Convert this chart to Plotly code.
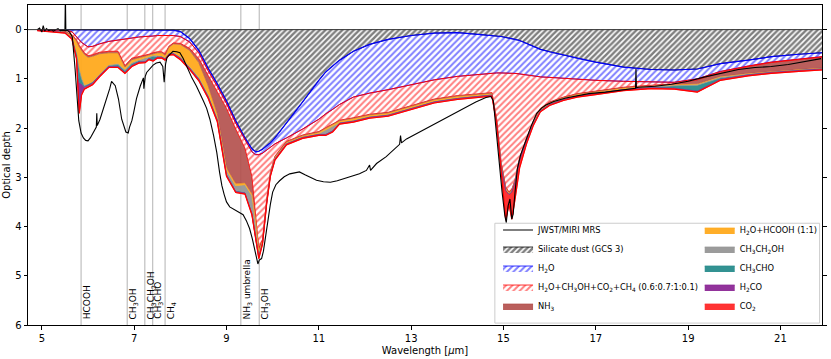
import numpy as np
import plotly.graph_objects as go

# %% data: common wavelength grid of the fit components (micron)
wl = [4.9, 5.2, 5.5, 5.65, 5.75, 5.81, 5.86, 5.92, 6.0, 6.1,
      6.25, 6.45, 6.65, 6.8, 6.95, 7.1, 7.24, 7.32, 7.41, 7.5,
      7.6, 7.67, 7.75, 7.85, 8.0, 8.2, 8.4, 8.6, 8.8, 9.0,
      9.2, 9.4, 9.55, 9.63, 9.7, 9.78, 9.87, 9.95, 10.05, 10.3,
      10.65, 11.0, 11.15, 11.3, 11.45, 11.75, 12.1, 12.5, 13.0, 13.5,
      14.0, 14.5, 14.75, 14.85, 14.95, 15.05, 15.12, 15.18, 15.25, 15.35,
      15.5, 15.65, 15.8, 16.0, 16.3, 16.6, 17.0, 17.6, 18.2, 18.7,
      19.2, 19.7, 20.3, 20.8, 21.4, 21.9]

# optical depth of each component (stacked in this order)
tau_silicate = [0, 0, 0, 0, 0, 0, 0, 0, 0, 0,
                0, 0, 0, 0, 0, 0, 0, 0, 0, 0,
                0, 0, 0, 0.01, 0.04, 0.18, 0.42, 0.78, 1.1, 1.45,
                1.85, 2.2, 2.42, 2.48, 2.47, 2.43, 2.36, 2.3, 2.2, 1.9,
                1.47, 1.03, 0.86, 0.74, 0.62, 0.44, 0.3, 0.2, 0.12, 0.07,
                0.06, 0.1, 0.12, 0.13, 0.14, 0.16, 0.17, 0.18, 0.2, 0.22,
                0.28, 0.34, 0.4, 0.45, 0.52, 0.58, 0.66, 0.76, 0.81, 0.82,
                0.8, 0.69, 0.62, 0.55, 0.5, 0.47]
tau_h2o = [0, 0, 0.01, 0.04, 0.15, 0.22, 0.26, 0.3, 0.35, 0.34,
           0.29, 0.24, 0.21, 0.18, 0.16, 0.15, 0.14, 0.14, 0.13, 0.12,
           0.12, 0.12, 0.12, 0.11, 0.1, 0.07, 0.05, 0.05, 0.05, 0.05,
           0.05, 0.05, 0.06, 0.06, 0.07, 0.08, 0.09, 0.1, 0.12, 0.3,
           0.55, 0.79, 0.85, 0.88, 0.9, 0.93, 0.99, 1.02, 1.0, 0.95,
           0.89, 0.81, 0.76, 0.75, 0.74, 0.72, 0.71, 0.7, 0.69, 0.68,
           0.64, 0.6, 0.56, 0.52, 0.47, 0.42, 0.37, 0.29, 0.25, 0.25,
           0.2, 0.16, 0.12, 0.11, 0.1, 0.08]
tau_mixture = [0.01, 0.02, 0.03, 0.06, 0.06, 0.1, 0.14, 0.17, 0.18, 0.17,
               0.17, 0.2, 0.23, 0.55, 0.42, 0.4, 0.38, 0.36, 0.34, 0.33,
               0.33, 0.38, 0.22, 0.15, 0.14, 0.13, 0.12, 0.1, 0.1, 0.1,
               0.12, 0.16, 0.5, 1.2, 1.9, 1.75, 1.0, 0.5, 0.25, 0.07,
               0.12, 0.25, 0.28, 0.3, 0.32, 0.42, 0.43, 0.46, 0.42, 0.39,
               0.39, 0.38, 0.4, 0.92, 1.82, 2.32, 2.42, 2.37, 2.16, 1.7,
               1.28, 0.91, 0.64, 0.5, 0.38, 0.3, 0.22, 0.12, 0.07, 0.03,
               0.02, 0.02, 0.01, 0.01, 0.01, 0.01]
tau_nh3 = [0, 0, 0, 0.01, 0.02, 0.03, 0.03, 0.03, 0.03, 0.03,
           0.03, 0.03, 0.03, 0.03, 0.03, 0.02, 0.02, 0.02, 0.02, 0.02,
           0.02, 0.02, 0.02, 0.02, 0.02, 0.04, 0.08, 0.2, 0.45, 1.2,
           1.1, 0.7, 0.35, 0.12, 0.05, 0.03, 0.02, 0.01, 0.01, 0.01,
           0.01, 0.01, 0.01, 0.01, 0.01, 0.01, 0.01, 0.01, 0.01, 0.01,
           0.01, 0.01, 0.01, 0.01, 0.01, 0.01, 0.01, 0.01, 0.01, 0.01,
           0.01, 0.01, 0.01, 0.01, 0.01, 0.01, 0.01, 0.01, 0.01, 0.01,
           0.08, 0.08, 0.14, 0.18, 0.2, 0.22]
tau_hcooh = [0, 0.01, 0.02, 0.06, 0.25, 0.45, 0.55, 0.62, 0.55, 0.52,
             0.42, 0.25, 0.22, 0.05, 0.06, 0.04, 0.03, 0.03, 0.03, 0.05,
             0.07, 0.06, 0.12, 0.18, 0.25, 0.33, 0.3, 0.18, 0.08, 0.05,
             0.05, 0.04, 0.04, 0.03, 0.02, 0.02, 0.03, 0.03, 0.03, 0.03,
             0.03, 0.03, 0.03, 0.03, 0.04, 0.05, 0.04, 0.04, 0.04, 0.04,
             0.04, 0.04, 0.03, 0.05, 0.08, 0.05, 0.03, 0.03, 0.03, 0.04,
             0.04, 0.04, 0.03, 0.03, 0.03, 0.03, 0.03, 0.03, 0.02, 0.02,
             0.02, 0.02, 0.01, 0.01, 0.01, 0.01]
tau_ch3ch2oh = [0, 0, 0, 0, 0.01, 0.02, 0.02, 0.02, 0.01, 0.01,
                0.01, 0.01, 0.02, 0.02, 0.02, 0.02, 0.06, 0.02, 0.02, 0.02,
                0.01, 0.01, 0.01, 0.01, 0.02, 0.02, 0.02, 0.03, 0.04, 0.08,
                0.1, 0.15, 0.35, 0.35, 0.1, 0.02, 0.01, 0.01, 0.01, 0.01,
                0.01, 0.02, 0.1, 0.1, 0.01, 0.01, 0.01, 0.01, 0.01, 0.01,
                0.01, 0.01, 0.01, 0.01, 0.01, 0.01, 0.01, 0.01, 0.01, 0.01,
                0.01, 0.01, 0.01, 0.01, 0.01, 0.01, 0.01, 0.01, 0.01, 0.01,
                0.01, 0.01, 0.01, 0.01, 0.01, 0.01]
tau_ch3cho = [0, 0, 0, 0, 0.03, 0.25, 0.1, 0.02, 0.01, 0.01,
              0.01, 0.02, 0.04, 0.04, 0.04, 0.03, 0.02, 0.02, 0.08, 0.02,
              0.01, 0.01, 0.01, 0.01, 0.01, 0.01, 0.02, 0.02, 0.02, 0.02,
              0.02, 0.02, 0.02, 0.01, 0.01, 0.01, 0.01, 0.01, 0.01, 0,
              0, 0, 0, 0, 0, 0, 0, 0, 0, 0,
              0, 0, 0, 0, 0, 0, 0, 0, 0, 0,
              0, 0, 0, 0, 0, 0, 0, 0, 0.01, 0.05,
              0.12, 0.03, 0.01, 0, 0, 0]
tau_h2co = [0, 0, 0, 0, 0.05, 0.6, 0.2, 0.02, 0.01, 0.01] + [0] * 66
tau_co2 = [0.01, 0.01, 0.01, 0.02, 0.02, 0.03, 0.03, 0.03, 0.03, 0.03,
           0.03, 0.02, 0.02, 0.02, 0.02, 0.02, 0.02, 0.02, 0.02, 0.02,
           0.02, 0.02, 0.02, 0.02, 0.03, 0.03, 0.03, 0.03, 0.03, 0.03,
           0.02, 0.02, 0.02, 0.02, 0.03, 0.02, 0.02, 0.02, 0.02, 0.02,
           0.02, 0.02, 0.02, 0.02, 0.02, 0.02, 0.02, 0.02, 0.02, 0.02,
           0.02, 0.02, 0.02, 0.03, 0.05, 0.6, 0.2, 0.55, 0.35, 0.15,
           0.06, 0.03, 0.02, 0.02, 0.02, 0.02, 0.02, 0.02, 0.02, 0.02,
           0.02, 0.02, 0.02, 0.02, 0.02, 0.02]

# observed JWST/MIRI MRS optical depth
obs_wl = [4.9, 4.95, 5.0, 5.03, 5.06, 5.1, 5.15, 5.2, 5.25, 5.3,
          5.35, 5.4, 5.45, 5.5, 5.51, 5.52, 5.56, 5.6, 5.66, 5.72,
          5.76, 5.8, 5.85, 5.9, 5.95, 6.0, 6.05, 6.12, 6.18, 6.19,
          6.2, 6.26, 6.33, 6.41, 6.47, 6.51, 6.55, 6.59, 6.66, 6.73,
          6.82, 6.87, 6.9, 6.95, 6.99, 7.05, 7.13, 7.2, 7.21, 7.24,
          7.27, 7.35, 7.41, 7.48, 7.56, 7.62, 7.65, 7.68, 7.71, 7.78,
          7.84, 7.92, 7.99, 8.06, 8.13, 8.25, 8.35, 8.42, 8.5, 8.57,
          8.64, 8.72, 8.79, 8.85, 8.9, 8.95, 9.0, 9.07, 9.14, 9.25,
          9.36, 9.43, 9.5, 9.56, 9.61, 9.65, 9.68, 9.71, 9.76, 9.8,
          9.83, 9.87, 9.9, 9.95, 10.0, 10.07, 10.15, 10.25, 10.37, 10.5,
          10.58, 10.7, 10.8, 10.95, 11.1, 11.25, 11.4, 11.55, 11.73, 11.88,
          12.03, 12.1, 12.12, 12.25, 12.46, 12.6, 12.75, 12.77, 12.79, 12.9,
          13.1, 13.32, 13.55, 13.76, 14.0, 14.19, 14.4, 14.62, 14.73, 14.78,
          14.83, 14.9, 14.97, 15.03, 15.06, 15.1, 15.14, 15.18, 15.21, 15.25,
          15.3, 15.37, 15.44, 15.52, 15.6, 15.72, 15.82, 15.92, 16.09, 16.35,
          16.63, 16.85, 17.21, 17.56, 17.86, 17.87, 17.88, 17.93, 18.29, 18.64,
          19.0, 19.37, 19.72, 20.09, 20.45, 20.8, 21.17, 21.53, 21.88]
obs_tau = [0.0, -0.03, 0.05, -0.08, 0.03, -0.02, 0.02, 0.0, 0.03, 0.01,
           -0.02, 0.02, 0.01, 0.02, -0.7, 0.02, 0.02, 0.05, 0.15, 0.8,
           1.4, 1.85, 2.1, 2.2, 2.25, 2.26, 2.2, 2.09, 1.98, 1.7,
           1.95, 1.82, 1.62, 1.41, 1.2, 1.05, 1.1, 1.14, 1.41, 1.82,
           2.08, 2.1, 1.98, 1.85, 1.68, 1.4, 1.15, 0.98, 1.2, 0.95,
           0.87, 0.78, 0.72, 0.68, 0.66, 0.75, 1.07, 0.7, 0.57, 0.5,
           0.44, 0.45, 0.47, 0.58, 0.74, 0.98, 1.15, 1.28, 1.45, 1.6,
           1.82, 2.15, 2.5, 2.9, 3.17, 3.35, 3.5, 3.6, 3.64, 3.7,
           3.76, 3.88, 4.04, 4.25, 4.44, 4.62, 4.76, 4.68, 4.65, 4.5,
           4.3, 4.05, 3.84, 3.55, 3.3, 3.15, 3.07, 2.99, 2.93, 2.9,
           2.89, 2.95, 3.0, 3.06, 3.09, 3.1, 3.07, 3.03, 2.97, 2.93,
           2.86, 2.75, 2.86, 2.72, 2.58, 2.45, 2.33, 2.15, 2.3, 2.22,
           2.12, 2.02, 1.9, 1.8, 1.68, 1.58, 1.47, 1.38, 1.36, 1.45,
           1.96, 2.63, 3.3, 3.78, 3.92, 3.58, 3.44, 3.85, 3.75, 3.3,
           2.83, 2.55, 2.36, 2.15, 1.96, 1.7, 1.6, 1.53, 1.46, 1.39,
           1.34, 1.3, 1.27, 1.23, 1.19, 0.8, 1.18, 1.17, 1.15, 1.11,
           1.05, 0.96, 0.89, 0.81, 0.77, 0.75, 0.71, 0.65, 0.59]

# marked band positions
band_wl = [5.85, 6.85, 7.23, 7.40, 7.67, 9.31, 9.71]
band_labels = ['HCOOH', 'CH<sub>3</sub>OH', 'CH<sub>3</sub>CH<sub>2</sub>OH', 'CH<sub>3</sub>CHO',
               'CH<sub>4</sub>', 'NH<sub>3</sub> umbrella', 'CH<sub>3</sub>OH']

# %% styling of the components
components = [
    ('Silicate dust (GCS 3)', tau_silicate, 'black', dict(shape='/', fgcolor='black', bgcolor='white', size=4, solidity=0.62), 'legend', 2),
    ('H<sub>2</sub>O', tau_h2o, 'blue', dict(shape='/', fgcolor='blue', bgcolor='white', size=4.5, solidity=0.45), 'legend', 3),
    ('H<sub>2</sub>O+CH<sub>3</sub>OH+CO<sub>2</sub>+CH<sub>4</sub> (0.6:0.7:1:0.1)', tau_mixture, 'red',
     dict(shape='/', fgcolor='red', bgcolor='white', size=4.5, solidity=0.45), 'legend', 4),
    ('NH<sub>3</sub>', tau_nh3, 'rgba(178,78,74,0.9)', None, 'legend', 5),
    ('H<sub>2</sub>O+HCOOH (1:1)', tau_hcooh, 'rgba(255,170,30,0.95)', None, 'legend2', 6),
    ('CH<sub>3</sub>CH<sub>2</sub>OH', tau_ch3ch2oh, 'rgba(150,150,150,0.95)', None, 'legend2', 7),
    ('CH<sub>3</sub>CHO', tau_ch3cho, 'rgba(40,140,140,0.95)', None, 'legend2', 8),
    ('H<sub>2</sub>CO', tau_h2co, 'rgba(140,40,150,0.95)', None, 'legend2', 9),
    ('CO<sub>2</sub>', tau_co2, 'rgba(255,40,40,0.95)', None, 'legend2', 10),
]

fig = go.Figure()

for name, tau, color, pattern, leg, rank in components:
    kw = dict(fillpattern=pattern, fillcolor='white') if pattern else dict(fillcolor=color)
    fig.add_trace(go.Scatter(x=wl, y=tau, name=name, stackgroup='fit', mode='lines',
                             line=dict(color=color, width=0.8), legend=leg, legendrank=rank,
                             hoverinfo='skip', **kw))

# edge lines of the hatched layers and the total fit
cum = np.cumsum(np.array([c[1] for c in components]), axis=0)
for row, color, width in [(0, 'blue', 1.2), (1, 'red', 1.0), (8, 'red', 1.2)]:
    fig.add_trace(go.Scatter(x=wl, y=cum[row], mode='lines', line=dict(color=color, width=width),
                             showlegend=False, hoverinfo='skip'))

fig.add_trace(go.Scatter(x=obs_wl, y=obs_tau, name='JWST/MIRI MRS', mode='lines',
                         line=dict(color='black', width=1.1), legend='legend', legendrank=1))

# band markers
for b in band_wl:
    fig.add_shape(type='line', x0=b, x1=b, y0=0, y1=1, xref='x', yref='paper',
                  line=dict(color='#c4c4c4', width=1.3), layer='below')
for b, lab in zip(band_wl, band_labels):
    fig.add_annotation(x=b, y=0.012, xref='x', yref='paper', text=lab, textangle=-90,
                       xanchor='left', yanchor='bottom', showarrow=False,
                       font=dict(size=9, color='black'), xshift=-1)

# zero level
fig.add_shape(type='line', x0=0, x1=1, y0=0, y1=0, xref='paper', yref='y',
              line=dict(color='#333333', width=1), layer='above')

# legend frame
fig.add_shape(type='rect', x0=0.588, x1=0.997, y0=0.006, y1=0.318, xref='paper', yref='paper',
              fillcolor='rgba(255,255,255,0.85)', line=dict(color='#cccccc', width=1), layer='above')

legend_style = dict(yanchor='bottom', xanchor='left', y=0.014, bgcolor='rgba(0,0,0,0)',
                    font=dict(size=8.3), itemwidth=30, tracegroupgap=0, traceorder='normal')

fig.update_layout(
    width=831, height=359,
    margin=dict(l=28, r=8, t=4, b=32),
    plot_bgcolor='white', paper_bgcolor='white',
    font=dict(family='DejaVu Sans', size=10, color='black'),
    showlegend=True,
    legend=dict(x=0.592, **legend_style),
    legend2=dict(x=0.846, **legend_style),
)
fig.update_xaxes(range=[4.7, 21.9], tickvals=[5, 7, 9, 11, 13, 15, 17, 19, 21],
                 ticks='outside', ticklen=3.5, tickcolor='black', showline=True, linecolor='black',
                 linewidth=1, mirror=True, showgrid=False, zeroline=False,
                 title=dict(text='Wavelength [<i>μ</i>m]', standoff=4, font=dict(size=10)))
fig.update_yaxes(range=[6, -0.5], tickvals=[0, 1, 2, 3, 4, 5, 6],
                 ticks='outside', ticklen=3.5, tickcolor='black', showline=True, linecolor='black',
                 linewidth=1, mirror='ticks', showgrid=False, zeroline=False,
                 title=dict(text='Optical depth', standoff=2, font=dict(size=10)))

# page body has a default margin; drop it so the figure sits at the window corner
fig.write_html("out.html", config={'displayModeBar': False},
               post_script="document.body.style.margin='0';")
